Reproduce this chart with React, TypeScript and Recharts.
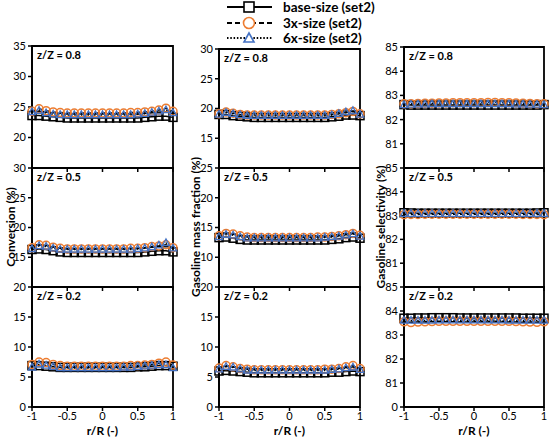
import React from 'react';
import { LineChart, Line, XAxis, YAxis, ReferenceArea, Legend } from 'recharts';

const FONT = 'Lato, "Noto Sans", sans-serif';
const ORANGE = '#ED7D31';
const BLUE = '#4472C4';

// ---------- data ----------
const rValues = [-1, -0.9, -0.8, -0.7, -0.6, -0.5, -0.4, -0.3, -0.2, -0.1, 0, 0.1, 0.2, 0.3, 0.4, 0.5, 0.6, 0.7, 0.8, 0.9, 1];
const seriesNames = ['base-size (set2)', '3x-size (set2)', '6x-size (set2)'];
const panelLabels = ['z/Z = 0.8', 'z/Z = 0.5', 'z/Z = 0.2'];
const yTitles = ['Conversion (%)', 'Gasoline mass fraction (%)', 'Gasoline selectivity (%)'];
const xTitle = 'r/R (-)';
const xTicks = [-1, -0.5, 0, 0.5, 1];

// Conversion (%)
const conv08Base = [23.6, 23.6, 23.5, 23.4, 23.3, 23.2, 23.2, 23.2, 23.2, 23.2, 23.2, 23.2, 23.2, 23.2, 23.2, 23.2, 23.3, 23.4, 23.5, 23.5, 23.3];
const conv083x = [24.3, 24.7, 24.4, 24.2, 24.1, 24.0, 24.0, 24.0, 24.0, 24.0, 24.0, 24.0, 24.0, 24.0, 24.1, 24.1, 24.2, 24.3, 24.5, 24.8, 24.3];
const conv086x = [24.2, 24.4, 24.0, 23.8, 23.7, 23.7, 23.7, 23.7, 23.7, 23.7, 23.7, 23.7, 23.7, 23.7, 23.7, 23.8, 23.9, 24.1, 24.3, 24.5, 24.0];
const conv05Base = [16.3, 16.4, 16.3, 16.1, 15.9, 15.8, 15.8, 15.8, 15.8, 15.8, 15.8, 15.8, 15.8, 15.8, 15.8, 15.8, 15.9, 16.0, 16.1, 16.1, 15.9];
const conv053x = [16.6, 17.1, 17.0, 16.7, 16.5, 16.4, 16.4, 16.4, 16.4, 16.4, 16.4, 16.4, 16.4, 16.4, 16.5, 16.5, 16.6, 16.8, 16.9, 17.1, 16.6];
const conv056x = [16.4, 16.9, 16.8, 16.5, 16.3, 16.3, 16.3, 16.3, 16.3, 16.3, 16.3, 16.3, 16.3, 16.3, 16.3, 16.4, 16.5, 16.7, 17.0, 17.4, 16.5];
const conv02Base = [6.9, 6.9, 6.8, 6.7, 6.6, 6.6, 6.6, 6.6, 6.6, 6.6, 6.6, 6.6, 6.6, 6.6, 6.6, 6.7, 6.7, 6.8, 6.9, 6.9, 6.8];
const conv023x = [7.1, 7.5, 7.4, 7.1, 6.9, 6.8, 6.8, 6.8, 6.8, 6.8, 6.8, 6.8, 6.8, 6.8, 6.9, 6.9, 7.0, 7.1, 7.3, 7.5, 7.0];
const conv026x = [6.6, 7.1, 6.9, 6.7, 6.5, 6.5, 6.5, 6.5, 6.5, 6.5, 6.5, 6.5, 6.5, 6.6, 6.6, 6.7, 6.8, 6.9, 7.0, 7.0, 6.5];

// Gasoline mass fraction (%)
const gmf08Base = [19.0, 19.0, 18.8, 18.7, 18.6, 18.5, 18.5, 18.5, 18.5, 18.5, 18.5, 18.5, 18.5, 18.5, 18.5, 18.5, 18.6, 18.7, 18.9, 18.9, 18.8];
const gmf083x = [19.1, 19.4, 19.2, 19.0, 18.9, 18.9, 18.9, 18.9, 18.9, 18.9, 18.9, 18.9, 18.9, 18.9, 18.9, 18.9, 19.0, 19.1, 19.3, 19.5, 19.1];
const gmf086x = [19.0, 19.3, 19.1, 18.9, 18.8, 18.8, 18.8, 18.8, 18.8, 18.8, 18.8, 18.8, 18.8, 18.8, 18.8, 18.8, 18.9, 19.1, 19.4, 19.6, 19.0];
const gmf05Base = [13.3, 13.4, 13.2, 13.0, 12.9, 12.9, 12.9, 12.9, 12.9, 12.9, 12.9, 12.9, 12.9, 12.9, 12.9, 12.9, 13.0, 13.1, 13.3, 13.4, 13.2];
const gmf053x = [13.6, 14.0, 13.9, 13.6, 13.4, 13.3, 13.3, 13.3, 13.3, 13.3, 13.3, 13.3, 13.3, 13.3, 13.4, 13.4, 13.5, 13.6, 13.8, 14.0, 13.7];
const gmf056x = [13.4, 13.8, 13.7, 13.4, 13.2, 13.2, 13.2, 13.2, 13.2, 13.2, 13.2, 13.2, 13.2, 13.2, 13.2, 13.3, 13.4, 13.5, 13.7, 13.9, 13.5];
const gmf02Base = [6.0, 6.1, 6.0, 5.9, 5.8, 5.7, 5.7, 5.7, 5.7, 5.7, 5.7, 5.7, 5.7, 5.7, 5.7, 5.7, 5.8, 5.8, 5.9, 6.0, 5.9];
const gmf023x = [6.5, 6.9, 6.7, 6.4, 6.3, 6.2, 6.2, 6.2, 6.2, 6.2, 6.2, 6.2, 6.2, 6.2, 6.2, 6.3, 6.3, 6.4, 6.7, 6.9, 6.4];
const gmf026x = [6.3, 6.7, 6.6, 6.3, 6.1, 6.1, 6.1, 6.1, 6.1, 6.1, 6.1, 6.1, 6.1, 6.1, 6.1, 6.1, 6.2, 6.3, 6.5, 6.6, 6.2];

// Gasoline selectivity (%)
const sel08Base = [82.62, 82.6, 82.6, 82.6, 82.6, 82.6, 82.6, 82.6, 82.6, 82.6, 82.6, 82.6, 82.6, 82.6, 82.6, 82.6, 82.6, 82.6, 82.6, 82.6, 82.62];
const sel083x = [82.65, 82.66, 82.67, 82.68, 82.68, 82.69, 82.69, 82.7, 82.7, 82.7, 82.7, 82.7, 82.71, 82.71, 82.7, 82.7, 82.69, 82.68, 82.67, 82.66, 82.65];
const sel086x = [82.6, 82.62, 82.63, 82.63, 82.64, 82.64, 82.64, 82.64, 82.64, 82.64, 82.64, 82.64, 82.64, 82.64, 82.64, 82.64, 82.63, 82.63, 82.62, 82.62, 82.6];
const sel05Base = [83.12, 83.11, 83.1, 83.1, 83.1, 83.1, 83.1, 83.1, 83.1, 83.1, 83.1, 83.1, 83.1, 83.1, 83.1, 83.1, 83.1, 83.1, 83.1, 83.11, 83.12];
const sel053x = [83.04, 83.05, 83.05, 83.06, 83.06, 83.06, 83.06, 83.06, 83.06, 83.06, 83.06, 83.06, 83.06, 83.06, 83.06, 83.06, 83.06, 83.05, 83.05, 83.05, 83.04];
const sel056x = [83.08, 83.08, 83.08, 83.08, 83.08, 83.08, 83.08, 83.08, 83.08, 83.08, 83.08, 83.08, 83.08, 83.08, 83.08, 83.08, 83.08, 83.08, 83.08, 83.08, 83.08];
const sel02Base = [83.7, 83.7, 83.71, 83.71, 83.72, 83.72, 83.72, 83.72, 83.71, 83.71, 83.71, 83.71, 83.71, 83.71, 83.71, 83.71, 83.71, 83.7, 83.7, 83.7, 83.7];
const sel023x = [83.55, 83.52, 83.54, 83.55, 83.56, 83.57, 83.57, 83.57, 83.57, 83.57, 83.57, 83.57, 83.57, 83.57, 83.57, 83.57, 83.56, 83.55, 83.54, 83.53, 83.55];
const sel026x = [83.6, 83.6, 83.6, 83.6, 83.6, 83.61, 83.61, 83.61, 83.61, 83.61, 83.61, 83.61, 83.61, 83.61, 83.61, 83.6, 83.6, 83.6, 83.6, 83.6, 83.6];

// y-axis domains and ticks
const convDomains = [[15, 35], [10, 30], [0, 20]];
const convTicks = [[20, 25, 30, 35], [15, 20, 25, 30], [0, 5, 10, 15, 20]];
const gmfDomains = [[10, 30], [5, 25], [0, 20]];
const gmfTicks = [[15, 20, 25, 30], [10, 15, 20, 25], [0, 5, 10, 15, 20]];
const selDomains = [[80, 85], [80, 85], [80, 85]];
const selTicks = [[81, 82, 83, 84, 85], [81, 82, 83, 84, 85], [80, 81, 82, 83, 84, 85]];

// ---------- helpers ----------
const buildRows = (base: number[], x3: number[], x6: number[]) =>
  rValues.map((r, i) => ({ r, base: base[i], x3: x3[i], x6: x6[i] }));

const SquareDot = (props: any) => {
  const { cx, cy, index } = props;
  if (cx == null || cy == null) return <g key={`s${index}`} />;
  return <rect key={`s${index}`} x={cx - 4} y={cy - 4} width={8} height={8} fill="none" stroke="#000" strokeWidth={1.5} />;
};
const CircleDot = (props: any) => {
  const { cx, cy, index } = props;
  if (cx == null || cy == null) return <g key={`c${index}`} />;
  return <circle key={`c${index}`} cx={cx} cy={cy} r={4} fill="none" stroke={ORANGE} strokeWidth={1.5} />;
};
const TriDot = (props: any) => {
  const { cx, cy, index } = props;
  if (cx == null || cy == null) return <g key={`t${index}`} />;
  return (
    <polygon
      key={`t${index}`}
      points={`${cx},${cy - 4} ${cx - 3.6},${cy + 2.6} ${cx + 3.6},${cy + 2.6}`}
      fill="none"
      stroke={BLUE}
      strokeWidth={1.3}
    />
  );
};

const LegendBox = () => {
  const rows = [
    { name: seriesNames[0], dash: undefined, kind: 'square' },
    { name: seriesNames[1], dash: '5 3', kind: 'circle' },
    { name: seriesNames[2], dash: '1.5 1.8', kind: 'tri' },
  ];
  const ys = [7, 23, 38];
  return (
    <svg width={160} height={46} style={{ display: 'block', overflow: 'visible' }}>
      {rows.map((row, i) => {
        const y = ys[i];
        const mx = 27;
        return (
          <g key={row.name}>
            <line x1={5} x2={50} y1={y} y2={y} stroke="#000" strokeWidth={2} strokeDasharray={row.dash} />
            {row.kind === 'square' && <rect x={mx - 5} y={y - 5} width={10} height={10} fill="#fff" stroke="#000" strokeWidth={1.6} />}
            {row.kind === 'circle' && <circle cx={mx} cy={y} r={5.5} fill="#fff" stroke={ORANGE} strokeWidth={1.6} />}
            {row.kind === 'tri' && (
              <polygon points={`${mx},${y - 5} ${mx - 5},${y + 4} ${mx + 5},${y + 4}`} fill="#fff" stroke={BLUE} strokeWidth={1.6} />
            )}
            <text x={61} y={y + 4.5} fontFamily={FONT} fontWeight={700} fontSize={13.5} fill="#000">
              {row.name}
            </text>
          </g>
        );
      })}
    </svg>
  );
};

type PanelCfg = {
  key: string;
  plotLeft: number;
  plotTop: number;
  plotW: number;
  plotH: number;
  yW: number;
  domain: number[];
  ticks: number[];
  rows: any[];
  label: string;
  bottom: boolean;
  zeroLabel?: boolean;
  legend?: boolean;
};

const Panel = ({ cfg }: { cfg: PanelCfg }) => {
  const mt = 8;
  const mr = 6;
  const xH = cfg.bottom ? 32 : 6;
  const W = cfg.yW + cfg.plotW + mr;
  const H = mt + cfg.plotH + xH;
  const tickStyle = { fill: '#000', fontSize: 11, fontFamily: FONT };
  return (
    <div style={{ position: 'absolute', left: cfg.plotLeft - cfg.yW, top: cfg.plotTop - mt }}>
      <LineChart width={W} height={H} data={cfg.rows} margin={{ top: mt, right: mr, bottom: 0, left: 0 }}>
        <XAxis
          type="number"
          dataKey="r"
          domain={[-1, 1]}
          ticks={xTicks}
          interval={0}
          height={xH}
          tickSize={4}
          tickMargin={1}
          axisLine={{ stroke: '#000', strokeWidth: 1.8 }}
          tickLine={{ stroke: '#000', strokeWidth: 1.5 }}
          tick={tickStyle}
          tickFormatter={(v: number) => (cfg.bottom ? String(v) : '')}
          label={
            cfg.bottom
              ? { value: xTitle, position: 'insideBottom', offset: 4, fill: '#000', fontSize: 12, fontWeight: 700, fontFamily: FONT }
              : undefined
          }
        />
        <YAxis
          type="number"
          domain={cfg.domain}
          ticks={cfg.ticks}
          interval={0}
          width={cfg.yW}
          tickSize={4}
          tickMargin={2}
          axisLine={{ stroke: '#000', strokeWidth: 1.8 }}
          tickLine={{ stroke: '#000', strokeWidth: 1.5 }}
          tick={tickStyle}
          tickFormatter={(v: number) => (cfg.zeroLabel && v === cfg.domain[0] ? '0' : String(v))}
        />
        <ReferenceArea
          x1={-1}
          x2={1}
          y1={cfg.domain[0]}
          y2={cfg.domain[1]}
          fill="none"
          fillOpacity={0}
          stroke="#000"
          strokeWidth={1.8}
          label={{ value: cfg.label, position: 'insideTopLeft', offset: 5, fill: '#000', fontSize: 11, fontWeight: 700, fontFamily: FONT }}
        />
        <Line dataKey="base" stroke="#000" strokeWidth={1.5} dot={SquareDot} isAnimationActive={false} legendType="none" />
        <Line dataKey="x3" stroke="#000" strokeWidth={1.5} strokeDasharray="4 3" dot={CircleDot} isAnimationActive={false} legendType="none" />
        <Line dataKey="x6" stroke="#000" strokeWidth={1.5} strokeDasharray="1.5 1.8" dot={TriDot} isAnimationActive={false} legendType="none" />
        {cfg.legend && (
          <Legend
            layout="vertical"
            align="center"
            verticalAlign="middle"
            content={() => <LegendBox />}
            wrapperStyle={{ position: 'absolute', left: 222 - (cfg.plotLeft - cfg.yW), top: -(cfg.plotTop - mt), width: 160, height: 46 }}
          />
        )}
      </LineChart>
    </div>
  );
};

const cols = [
  { plotLeft: 32, plotW: 141, yW: 32, tops: [46, 168, 287], titleX: 10, domains: convDomains, ticks: convTicks,
    data: [[conv08Base, conv083x, conv086x], [conv05Base, conv053x, conv056x], [conv02Base, conv023x, conv026x]] },
  { plotLeft: 219, plotW: 141, yW: 30, tops: [49, 168, 287], titleX: 195, domains: gmfDomains, ticks: gmfTicks,
    data: [[gmf08Base, gmf083x, gmf086x], [gmf05Base, gmf053x, gmf056x], [gmf02Base, gmf023x, gmf026x]] },
  { plotLeft: 404, plotW: 140, yW: 30, tops: [47, 168, 287], titleX: 380, domains: selDomains, ticks: selTicks,
    data: [[sel08Base, sel083x, sel086x], [sel05Base, sel053x, sel056x], [sel02Base, sel023x, sel026x]] },
];
const bottoms = [168, 287, 407];

export default function App() {
  const panels: PanelCfg[] = [];
  cols.forEach((c, ci) => {
    [0, 1, 2].forEach((ri) => {
      const d = c.data[ri];
      panels.push({
        key: `p${ci}${ri}`,
        plotLeft: c.plotLeft,
        plotTop: c.tops[ri],
        plotW: c.plotW,
        plotH: bottoms[ri] - c.tops[ri],
        yW: c.yW,
        domain: c.domains[ri],
        ticks: c.ticks[ri],
        rows: buildRows(d[0], d[1], d[2]),
        label: panelLabels[ri],
        bottom: ri === 2,
        zeroLabel: ci === 2 && ri === 2,
        legend: ci === 1 && ri === 0,
      });
    });
  });
  return (
    <div style={{ position: 'absolute', left: 0, top: 0, width: 551, height: 439, overflow: 'hidden', background: '#fff' }}>
      {panels.map((p) => (
        <Panel key={p.key} cfg={p} />
      ))}
      <svg width={551} height={439} style={{ position: 'absolute', left: 0, top: 0, pointerEvents: 'none' }}>
        {cols.map((c, ci) => (
          <text
            key={yTitles[ci]}
            x={c.titleX}
            y={227}
            transform={`rotate(-90, ${c.titleX}, 227)`}
            textAnchor="middle"
            dominantBaseline="central"
            fontFamily={FONT}
            fontWeight={700}
            fontSize={12}
            fill="#000"
          >
            {yTitles[ci]}
          </text>
        ))}
      </svg>
    </div>
  );
}
